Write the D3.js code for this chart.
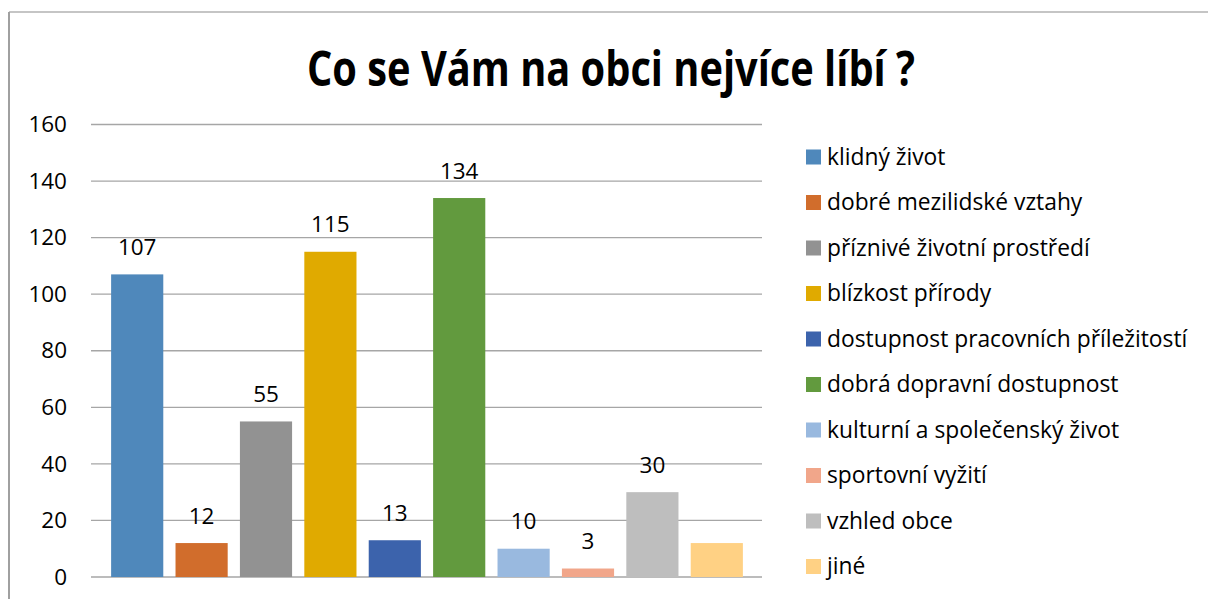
<!DOCTYPE html>
<html>
<head>
<meta charset="utf-8">
<script src="https://cdn.jsdelivr.net/npm/d3@7"></script>
<style>
  body { margin: 0; background: #fff; }
  svg text { font-family: "Open Sans", Lato, sans-serif; fill: #000; }
</style>
</head>
<body>
<svg id="chart" width="1208" height="599"></svg>
<script>
'use strict'

// chart data
var categories = [
    "klidný život",
    "dobré mezilidské vztahy",
    "příznivé životní prostředí",
    "blízkost přírody",
    "dostupnost pracovních příležitostí",
    "dobrá dopravní dostupnost",
    "kulturní a společenský život",
    "sportovní vyžití",
    "vzhled obce",
    "jiné"
];
var counts = [107, 12, 55, 115, 13, 134, 10, 3, 30, 12];
// last bar has no data label in the original
var showLabel = [true, true, true, true, true, true, true, true, true, false];
var colors = ["#4f88bb", "#d16d2c", "#929292", "#e0aa00", "#3c63ac",
              "#629a3e", "#99b9df", "#f1a68a", "#bebebe", "#ffd184"];
var yTicks = [0, 20, 40, 60, 80, 100, 120, 140, 160];
var title = "Co se Vám na obci nejvíce líbí ?";

var svg = d3.select("#chart");

// outer frame (only top and left edges are visible)
svg.append("line").attr("x1", 9).attr("x2", 1208).attr("y1", 12).attr("y2", 12)
    .attr("stroke", "#8c8c8c").attr("stroke-width", 1.2);
svg.append("line").attr("x1", 9).attr("x2", 9).attr("y1", 12).attr("y2", 599)
    .attr("stroke", "#a0a0a0").attr("stroke-width", 2);

// title: original font is narrower, so squeeze to the original width
svg.append("text")
    .attr("x", 611).attr("y", 86)
    .attr("text-anchor", "middle")
    .attr("textLength", 608).attr("lengthAdjust", "spacingAndGlyphs")
    .style("font-size", "49px").style("font-weight", "bold")
    .text(title);

var y = d3.scaleLinear().domain([0, 160]).range([577, 124.5]);
var x = d3.scaleBand().domain(categories).range([105, 749]).paddingInner(0.19).paddingOuter(0.095);

// gridlines
svg.append("g").selectAll("line")
    .data(yTicks)
    .enter().append("line")
    .attr("x1", 91).attr("x2", 762)
    .attr("y1", function(d){ return y(d); })
    .attr("y2", function(d){ return y(d); })
    .attr("stroke", "#a6a6a6").attr("stroke-width", 1.3);

// y axis labels
var yAxis = svg.append("g").attr("transform", "translate(74,0)")
    .call(d3.axisLeft(y).tickValues(yTicks).tickSize(0).tickPadding(7));
yAxis.select(".domain").remove();
yAxis.selectAll("text")
    .style("font-size", "22.5px").style("font-family", "'Open Sans', sans-serif").attr("fill", "#000");

// bars
svg.append("g").selectAll("rect")
    .data(counts)
    .enter().append("rect")
    .attr("x", function(d, i){ return x(categories[i]); })
    .attr("width", x.bandwidth())
    .attr("y", function(d){ return y(d); })
    .attr("height", function(d){ return y(0) - y(d); })
    .attr("fill", function(d, i){ return colors[i]; });

// data labels
svg.append("g").selectAll("text")
    .data(counts)
    .enter().filter(function(d, i){ return showLabel[i]; })
    .append("text")
    .attr("x", function(d, i){ return x(categories[i]) + x.bandwidth() / 2; })
    .attr("y", function(d){ return y(d) - 19.5; })
    .attr("text-anchor", "middle")
    .style("font-size", "22.5px")
    .text(function(d){ return d; });

// legend
var legend = svg.append("g").selectAll("g")
    .data(categories)
    .enter().append("g")
    .attr("transform", function(d, i){ return "translate(806," + (157 + i * 45.5) + ")"; });

legend.append("rect")
    .attr("x", 0).attr("y", -7.5).attr("width", 15).attr("height", 15)
    .attr("fill", function(d, i){ return colors[i]; });

legend.append("text")
    .attr("x", 21).attr("y", 0).attr("dy", "0.35em")
    .style("font-size", "22.8px")
    .text(function(d){ return d; });
</script>
</body>
</html>
